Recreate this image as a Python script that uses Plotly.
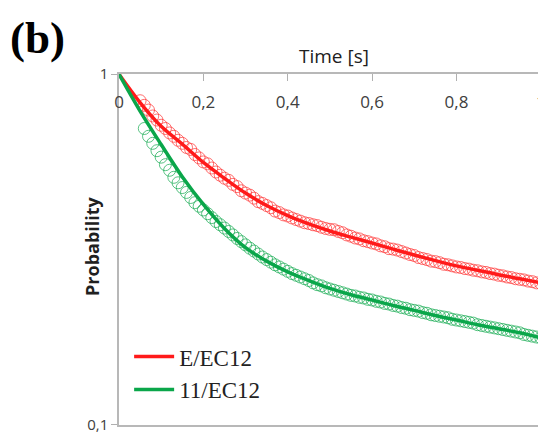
import plotly.graph_objects as go

# Fitted curves
fit_t = [0.0, 0.05, 0.10, 0.15, 0.20, 0.25, 0.30, 0.35, 0.40, 0.45, 0.50,
         0.55, 0.60, 0.65, 0.70, 0.75, 0.80, 0.85, 0.90, 0.95, 1.00]
fit_red = [1.0, 0.83, 0.71, 0.632, 0.56, 0.505, 0.458, 0.422, 0.395, 0.374, 0.357,
           0.343, 0.33, 0.317, 0.305, 0.294, 0.284, 0.276, 0.268, 0.261, 0.254]
fit_green = [1.0, 0.785, 0.63, 0.51, 0.425, 0.363, 0.32, 0.293, 0.273, 0.258, 0.245,
             0.235, 0.227, 0.219, 0.212, 0.205, 0.199, 0.193, 0.188, 0.183, 0.177]

# Measured points (open circles)
red_t = [round(0.05 + 0.01 * i, 2) for i in range(96)]
red_p = [0.84, 0.815, 0.79, 0.76, 0.74, 0.715, 0.70, 0.68, 0.665, 0.648,
         0.635, 0.618, 0.61, 0.59, 0.577, 0.562, 0.555, 0.54, 0.526, 0.515,
         0.505, 0.498, 0.485, 0.478, 0.465, 0.458, 0.452, 0.443, 0.433, 0.428,
         0.422, 0.416, 0.407, 0.403, 0.397, 0.394, 0.389, 0.385, 0.381, 0.377,
         0.375, 0.372, 0.37, 0.366, 0.363, 0.361, 0.36, 0.356, 0.353, 0.348,
         0.345, 0.341, 0.339, 0.335, 0.333, 0.33, 0.328, 0.324, 0.322, 0.318,
         0.317, 0.315, 0.312, 0.309, 0.306, 0.304, 0.30, 0.298, 0.296, 0.293,
         0.292, 0.29, 0.287, 0.286, 0.284, 0.282, 0.281, 0.279, 0.278, 0.276,
         0.275, 0.273, 0.272, 0.27, 0.269, 0.267, 0.266, 0.264, 0.263, 0.261,
         0.26, 0.259, 0.257, 0.256, 0.254, 0.253]

green_t = [round(0.06 + 0.01 * i, 2) for i in range(95)]
green_p = [0.70, 0.665, 0.635, 0.605, 0.58, 0.552, 0.532, 0.508, 0.49, 0.475,
           0.46, 0.445, 0.43, 0.42, 0.41, 0.40, 0.39, 0.38, 0.372, 0.364,
           0.356, 0.348, 0.34, 0.333, 0.326, 0.319, 0.313, 0.307, 0.301, 0.296,
           0.291, 0.286, 0.282, 0.278, 0.274, 0.27, 0.267, 0.264, 0.261, 0.258,
           0.254, 0.251, 0.249, 0.246, 0.244, 0.242, 0.24, 0.238, 0.236, 0.234,
           0.233, 0.231, 0.23, 0.228, 0.227, 0.225, 0.224, 0.222, 0.221, 0.219,
           0.218, 0.216, 0.215, 0.213, 0.212, 0.211, 0.209, 0.208, 0.206, 0.205,
           0.204, 0.203, 0.202, 0.20, 0.199, 0.198, 0.197, 0.196, 0.195, 0.193,
           0.192, 0.191, 0.19, 0.189, 0.188, 0.187, 0.186, 0.185, 0.184, 0.183,
           0.181, 0.18, 0.179, 0.178, 0.177]

x_ticks = [0, 0.2, 0.4, 0.6, 0.8, 1.0]
x_ticktext = ["0", "0,2", "0,4", "0,6", "0,8", "1"]
y_ticks = [0.1, 1]
y_ticktext = ["0,1", "1"]

RED = "#ff1a1a"
GREEN = "#0aa64a"

fig = go.Figure()
fig.add_trace(go.Scatter(x=red_t, y=red_p, mode="markers", showlegend=False,
                         marker=dict(symbol="circle-open", size=12,
                                     color="rgba(255,50,50,0.7)", line=dict(width=1))))
fig.add_trace(go.Scatter(x=green_t, y=green_p, mode="markers", showlegend=False,
                         marker=dict(symbol="circle-open", size=12,
                                     color="rgba(20,170,80,0.7)", line=dict(width=1))))
fig.add_trace(go.Scatter(x=fit_t, y=fit_red, mode="lines", name="E/EC12",
                         line=dict(color=RED, width=3.5, shape="spline")))
fig.add_trace(go.Scatter(x=fit_t, y=fit_green, mode="lines", name="11/EC12",
                         line=dict(color=GREEN, width=3.5, shape="spline")))

fig.update_layout(
    width=546, height=427,
    margin=dict(l=111, r=13, t=66, b=10, autoexpand=False),
    paper_bgcolor="white", plot_bgcolor="white",
    showlegend=True,
    legend=dict(x=0.024, y=0.256, xanchor="left", yanchor="top",
                bgcolor="rgba(0,0,0,0)", tracegroupgap=0, itemwidth=40,
                font=dict(family="Liberation Serif", size=23, color="#222222")),
    annotations=[
        dict(text="<b>(b)</b>", xref="paper", yref="paper",
             x=-0.262, y=1.0, yshift=36, xanchor="left", yanchor="middle",
             showarrow=False,
             font=dict(family="Liberation Serif", size=45, color="black")),
        dict(text="Time [s]", xref="paper", yref="paper",
             x=0.51, y=1.0, yshift=18, xanchor="center", yanchor="middle",
             showarrow=False,
             font=dict(family="Open Sans", size=19, color="#202020")),
        dict(text="<b>Probability</b>", xref="paper", yref="paper",
             x=-0.064, y=0.51, xanchor="center", yanchor="middle", textangle=-90,
             showarrow=False,
             font=dict(family="Open Sans", size=18, color="#202020")),
    ],
)
fig.update_xaxes(
    range=[0, 1.0005], side="top", tickmode="array", tickvals=x_ticks, ticktext=x_ticktext,
    ticklabelposition="inside", ticklabeloverflow="allow", ticklabelstandoff=16,
    ticks="inside", ticklen=7, tickcolor="#b0b0b0", automargin=False,
    showline=True, linecolor="#b8b8b8", linewidth=1.5, mirror=True, showgrid=False,
    zeroline=False,
    tickfont=dict(family="Open Sans", size=17, color="#404040"),
)
fig.update_yaxes(
    type="log", range=[-1.0005, 0.0005], tickmode="array", tickvals=y_ticks, ticktext=y_ticktext,
    ticks="outside", ticklen=6, tickcolor="#b0b0b0", automargin=False,
    showline=True, linecolor="#b8b8b8", linewidth=1.5, showgrid=False, zeroline=False,
    tickfont=dict(family="Open Sans", size=15, color="#404040"),
)

fig.write_html("out.html")
